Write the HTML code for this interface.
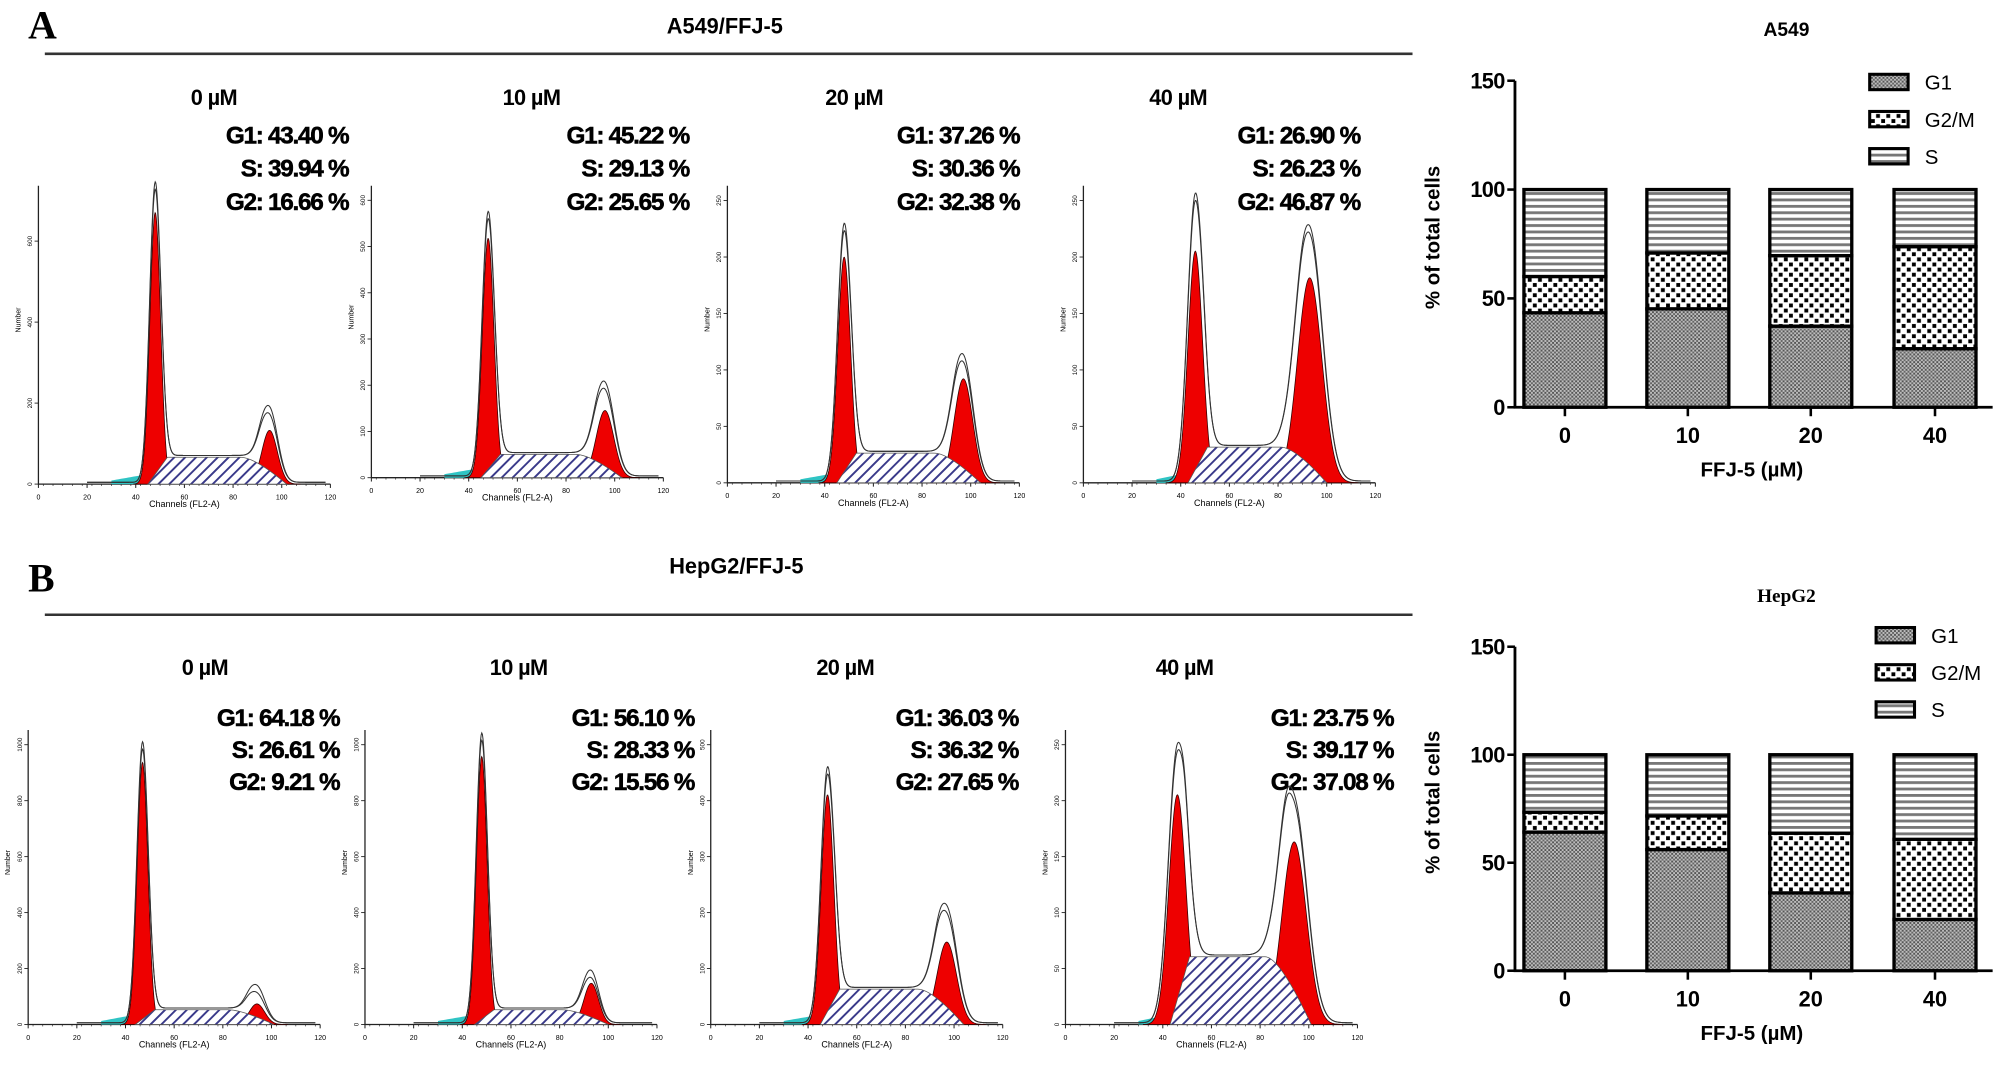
<!DOCTYPE html>
<html><head><meta charset="utf-8">
<style>
html,body{margin:0;padding:0;background:#fff;}
svg{display:block;}
text{font-family:"Liberation Sans",Arial,sans-serif;}
.b{font-weight:bold;}
</style></head>
<body>
<svg id="fig" width="2008" height="1070" viewBox="0 0 1568 835.5" xmlns="http://www.w3.org/2000/svg">
<defs>
<pattern id="pG1" width="3" height="3" patternUnits="userSpaceOnUse"><rect width="3" height="3" fill="#bdbdbd"/><rect width="1.5" height="1.5" fill="#555"/><rect x="1.5" y="1.5" width="1.5" height="1.5" fill="#666"/></pattern>
<pattern id="pG2" width="8" height="8" patternUnits="userSpaceOnUse"><rect width="8" height="8" fill="#fff"/><rect x="1" y="1" width="3" height="3" fill="#000"/><rect x="5" y="5" width="3" height="3" fill="#000"/></pattern>
<pattern id="pS" width="6" height="5" patternUnits="userSpaceOnUse"><rect width="6" height="5" fill="#fff"/><rect y="0" width="6" height="2.2" fill="#777"/></pattern>
<pattern id="pHatch" width="6" height="6" patternUnits="userSpaceOnUse" patternTransform="rotate(45)"><rect width="6" height="6" fill="#fff"/><rect width="1.5" height="6" fill="#3a3a8a"/></pattern>
</defs>

<text x="22" y="30" style="font-family:'Liberation Serif',serif;font-weight:bold;font-size:31px">A</text>
<text x="566" y="26" text-anchor="middle" class="b" font-size="17">A549/FFJ-5</text>
<line x1="35" y1="42" x2="1103" y2="42" stroke="#333" stroke-width="2"/>
<text x="22" y="462" style="font-family:'Liberation Serif',serif;font-weight:bold;font-size:31px">B</text>
<text x="575" y="448" text-anchor="middle" class="b" font-size="17">HepG2/FFJ-5</text>
<line x1="35" y1="480" x2="1103" y2="480" stroke="#333" stroke-width="2"/>

<g id="hists"></g>
<g id="bars"></g>
</svg>
<script>
// ---- histogram data (fractions of axis height, channel positions) ----
const doseLabels = ['0 µM','10 µM','20 µM','40 µM','0 µM','10 µM','20 µM','40 µM'];
const statG1 = ['43.40','45.22','37.26','26.90','64.18','56.10','36.03','23.75'];
const statS  = ['39.94','29.13','30.36','26.23','26.61','28.33','36.32','39.17'];
const statG2 = ['16.66','25.65','32.38','46.87','9.21','15.56','27.65','37.08'];
const g1Red = [0.91,0.82,0.76,0.78,0.89,0.91,0.78,0.78];
const g1Out = [1.00,0.90,0.86,0.96,0.95,0.98,0.86,0.93];
const g2Red = [0.18,0.23,0.35,0.69,0.07,0.14,0.28,0.62];
const g2Out = [0.24,0.31,0.41,0.84,0.12,0.17,0.38,0.74];
const sLevel = [0.09,0.08,0.10,0.12,0.05,0.05,0.12,0.23];
const g1Ch = [48,48,48,46,47,48,48,46];
const g2Ch = [95,96,97,93,94,93,97,94];
const g1Sd = [2.2,2.4,2.6,3.0,2.2,2.2,2.6,3.5];
const g2Sd = [3.2,3.6,3.8,5.0,3.2,3.0,4.0,5.0];
const xTicks = [0,20,40,60,80,100,120];
const yTickMax = [700,600,250,250,1000,1000,500,250];
const yTickStep = [200,100,50,50,200,200,100,50];

// ---- bar data ----
const categories = ['0','10','20','40'];
const a549G1 = [43.40,45.22,37.26,26.90];
const a549G2 = [16.66,25.65,32.38,46.87];
const a549S  = [39.94,29.13,30.36,26.23];
const hepG1 = [64.18,56.10,36.03,23.75];
const hepG2 = [9.21,15.56,27.65,37.08];
const hepS  = [26.61,28.33,36.32,39.17];
const yTicks = [0,50,100,150];

const NS='http://www.w3.org/2000/svg';
function mk(tag,attrs,parent){const e=document.createElementNS(NS,tag);for(const k in attrs)e.setAttribute(k,attrs[k]);parent.appendChild(e);return e;}

// layout
const hx0=[30,290,568,846,22,285,555,832];
const hbase=[378,373,377,377,800,800,800,800];
const htop=[145,145,145,145,570,570,570,570];
const hW=228;
const labelX=[167,415,667,920,160,405,660,925];
const labelY=[82,82,82,82,527,527,527,527];
const statR=[272,538,796,1062,265,542,795,1088];
const statY=[[112,138,164],[112,138,164],[112,138,164],[112,138,164],[567,592,617],[567,592,617],[567,592,617],[567,592,617]];

const H=document.getElementById('hists');
function gauss(c,m,s){return Math.exp(-0.5*((c-m)/s)*((c-m)/s));}
for(let i=0;i<8;i++){
  const g=mk('g',{},H);
  
  
  const x0=hx0[i],base=hbase[i],h=base-htop[i];
  const X=c=>x0+c/120*hW, Y=f=>base-f*h;
  const t1=mk('text',{x:labelX[i],y:labelY[i],'text-anchor':'middle','class':'b','font-size':17,'letter-spacing':'-0.5'},g);t1.textContent=doseLabels[i];
  
  
  const lines=['G1: '+statG1[i]+' %','S: '+statS[i]+' %','G2: '+statG2[i]+' %'];
  lines.forEach((s,k)=>{const t=mk('text',{x:statR[i],y:statY[i][k],'text-anchor':'end','class':'b','font-size':19,'letter-spacing':'-1','stroke':'#000','stroke-width':0.4},g);t.textContent=s;
    
    });
  // axes
  const ax=mk('path',{d:`M${x0},${htop[i]} V${base} H${x0+hW}`,stroke:'#222','stroke-width':1,fill:'none'},g);
  
  
  xTicks.forEach(v=>{mk('line',{x1:X(v),y1:base,x2:X(v),y2:base+3,stroke:'#222','stroke-width':0.8},g);
    const t=mk('text',{x:X(v),y:base+12,'text-anchor':'middle','font-size':5.5},g);t.textContent=v;
    
    });
  for(let v=2;v<120;v+=4)mk('line',{x1:X(v),y1:base,x2:X(v),y2:base+1.5,stroke:'#222','stroke-width':0.5},g);
  for(let v=0;v<=yTickMax[i];v+=yTickStep[i]){
    const yy=base-v/yTickMax[i]*h*0.95;
    mk('line',{x1:x0-3,y1:yy,x2:x0,y2:yy,stroke:'#222','stroke-width':0.7},g);
    const t=mk('text',{x:0,y:0,'text-anchor':'middle','font-size':5,transform:`translate(${x0-5},${yy}) rotate(-90)`},g);t.textContent=v;
    
    
  }
  const xl=mk('text',{x:X(60),y:base+18,'text-anchor':'middle','font-size':7},g);xl.textContent='Channels (FL2-A)';
  
  
  const yl=mk('text',{x:0,y:0,'text-anchor':'middle','font-size':5.5,transform:`translate(${x0-14},${base-h*0.55}) rotate(-90)`},g);yl.textContent='Number';
  
  
  // debris cyan
  let dp=`M${X(30)},${base}`;for(let c=30;c<=g1Ch[i]-4;c+=1)dp+=` L${X(c)},${Y(0.012+0.02*(c-30)/(g1Ch[i]-34))}`;dp+=` L${X(g1Ch[i]-4)},${base}Z`;
  const deb=mk('path',{d:dp,fill:'#2fc4c4'},g);
  
  
  // G1 red
  let p=`M${X(g1Ch[i]-4*g1Sd[i])},${base}`;for(let c=g1Ch[i]-4*g1Sd[i];c<=g1Ch[i]+4*g1Sd[i];c+=0.25)p+=` L${X(c)},${Y(g1Red[i]*gauss(c,g1Ch[i],g1Sd[i]))}`;p+='Z';
  const r1=mk('path',{d:p,fill:'#ee0000',stroke:'#300','stroke-width':0.6},g);
  
  
  p=`M${X(g2Ch[i]-4*g2Sd[i])},${base}`;for(let c=g2Ch[i]-4*g2Sd[i];c<=g2Ch[i]+4*g2Sd[i];c+=0.25)p+=` L${X(c)},${Y(g2Red[i]*gauss(c,g2Ch[i],g2Sd[i]))}`;p+='Z';
  const r2=mk('path',{d:p,fill:'#ee0000',stroke:'#300','stroke-width':0.6},g);
  
  
  // S hatch trapezoid
  const sa=g1Ch[i]-3,sb=g1Ch[i]+5,sc=g2Ch[i]-12,sd=g2Ch[i]+7;
  const sp=`M${X(sa)},${base} L${X(sb)},${Y(sLevel[i])} L${X(sc)},${Y(sLevel[i])} Q${X(sc+6)},${Y(sLevel[i])} ${X(sd)},${base} Z`;
  const hs=mk('path',{d:sp,fill:'url(#pHatch)',stroke:'#555','stroke-width':0.6},g);
  
  
  // outline (double)
  [0,0.025].forEach(off=>{
    let o='';
    for(let c=20;c<=118;c+=0.25){
      const pl=sLevel[i]*(1/(1+Math.exp(-(c-g1Ch[i]-2)/0.8)))*(1/(1+Math.exp((c-g2Ch[i]+2)/1.2)));
      const f=(g1Out[i]-off)*gauss(c,g1Ch[i],g1Sd[i]*1.05)+(g2Out[i]-off)*gauss(c,g2Ch[i],g2Sd[i]*1.05)+pl+0.006;
      o+=(o?' L':'M')+X(c)+','+Y(f);
    }
    const ol=mk('path',{d:o,fill:'none',stroke:'#333','stroke-width':0.8},g);
    
    
  });
}

// ---- bar charts ----
const B=document.getElementById('bars');
function barChart(name,title,titleSerif,y0,y150,legY,legX,G1,G2,S){
  const g=mk('g',{},B);
  
  
  const axX=1183, Y=v=>y0-(v/150)*(y0-y150), cx=[1222,1318,1414,1511], bw=64;
  const t=mk('text',{x:1395,y:y150-35,'text-anchor':'middle','class':'b','font-size':15,style:titleSerif?"font-family:'Liberation Serif',serif":''},g);t.textContent=title;
  
  
  categories.forEach((c,k)=>{
    const x=cx[k]-bw/2;
    const segs=[[0,G1[k],'url(#pG1)','bar-g1'],[G1[k],G1[k]+G2[k],'url(#pG2)','bar-g2m'],[G1[k]+G2[k],G1[k]+G2[k]+S[k],'url(#pS)','bar-s']];
    segs.forEach(s=>{const r=mk('rect',{x:x,y:Y(s[1]),width:bw,height:Y(s[0])-Y(s[1]),fill:s[2],stroke:'#000','stroke-width':2.6},g);
      
      });
    mk('line',{x1:cx[k],y1:y0,x2:cx[k],y2:y0+7,stroke:'#000','stroke-width':2},g);
    const tl=mk('text',{x:cx[k],y:y0+28,'text-anchor':'middle','class':'b','font-size':17},g);tl.textContent=c;
    
    
  });
  const ax=mk('path',{d:`M${axX},${Y(150)} V${y0} H1556`,stroke:'#000','stroke-width':2.2,fill:'none'},g);
  
  
  yTicks.forEach(v=>{mk('line',{x1:axX-6,y1:Y(v),x2:axX,y2:Y(v),stroke:'#000','stroke-width':2},g);
    const tl=mk('text',{x:axX-8,y:Y(v)+6,'text-anchor':'end','class':'b','font-size':17,'letter-spacing':'-0.5'},g);tl.textContent=v;
    
    });
  const xl=mk('text',{x:1368,y:y0+54,'text-anchor':'middle','class':'b','font-size':16},g);xl.textContent='FFJ-5 (µM)';
  
  
  const yl=mk('text',{x:0,y:0,'text-anchor':'middle','class':'b','font-size':16,transform:`translate(${1124},${Y(78)}) rotate(-90)`},g);yl.textContent='% of total cells';
  
  
  [['G1','url(#pG1)'],['G2/M','url(#pG2)'],['S','url(#pS)']].forEach((l,k)=>{
    const r=mk('rect',{x:legX,y:legY+k*29-6,width:30,height:12,fill:l[1],stroke:'#000','stroke-width':2.4},g);
    
    
    const tt=mk('text',{x:legX+43,y:legY+k*29+6,'font-size':16},g);tt.textContent=l[0];
    
    
  });
}
barChart('bar-chart-a549','A549',false,318,63,64,1460,a549G1,a549G2,a549S);
barChart('bar-chart-hepg2','HepG2',true,758,505,496,1465,hepG1,hepG2,hepS);
</script>
</body></html>
